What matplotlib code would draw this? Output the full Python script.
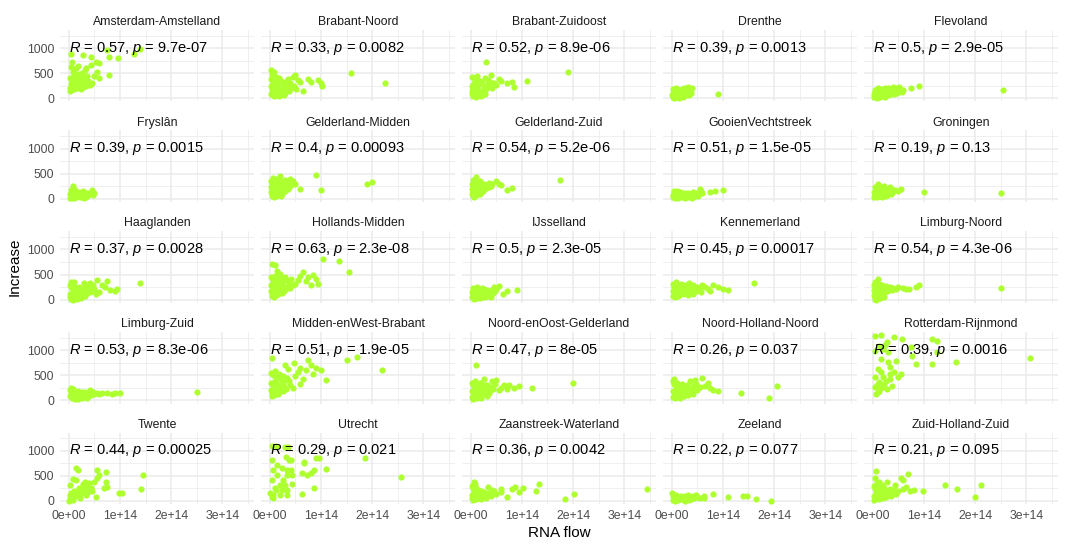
import matplotlib
matplotlib.use('Agg')
import matplotlib.pyplot as plt
from matplotlib.ticker import FuncFormatter
import numpy as np

plt.rcParams['font.family'] = ['Liberation Sans', 'DejaVu Sans']
plt.rcParams['mathtext.fontset'] = 'custom'
plt.rcParams['mathtext.rm'] = 'Liberation Sans'
plt.rcParams['mathtext.it'] = 'Liberation Sans:italic'

# Regions (facets) and correlation labels
regions = ["Amsterdam-Amstelland", "Brabant-Noord", "Brabant-Zuidoost", "Drenthe", "Flevoland",
           "Fryslân", "Gelderland-Midden", "Gelderland-Zuid", "GooienVechtstreek", "Groningen",
           "Haaglanden", "Hollands-Midden", "IJsselland", "Kennemerland", "Limburg-Noord",
           "Limburg-Zuid", "Midden-enWest-Brabant", "Noord-enOost-Gelderland", "Noord-Holland-Noord",
           "Rotterdam-Rijnmond", "Twente", "Utrecht", "Zaanstreek-Waterland", "Zeeland",
           "Zuid-Holland-Zuid"]
r_vals = ["0.57", "0.33", "0.52", "0.39", "0.5", "0.39", "0.4", "0.54", "0.51", "0.19",
          "0.37", "0.63", "0.5", "0.45", "0.54", "0.53", "0.51", "0.47", "0.26", "0.39",
          "0.44", "0.29", "0.36", "0.22", "0.21"]
p_vals = ["9.7e-07", "0.0082", "8.9e-06", "0.0013", "2.9e-05", "0.0015", "0.00093", "5.2e-06",
          "1.5e-05", "0.13", "0.0028", "2.3e-08", "2.3e-05", "0.00017", "4.3e-06", "8.3e-06",
          "1.9e-05", "8e-05", "0.037", "0.0016", "0.00025", "0.021", "0.0042", "0.077", "0.095"]

# (RNA flow in 1e14, increase) per region
ams = [(0.06,720),(0.27,860),(0.44,820),(0.53,720),(0.60,700),(0.44,660),(0.79,820),(0.75,960),(0.96,800),(1.27,880),
       (1.40,980),(0.79,460),(0.56,520),(0.46,300),(0.60,400),(0.15,600),(0.31,560),(0.05,880),(0.02,200),(0.05,160),
       (0.08,240),(0.10,180),(0.12,300),(0.15,220),(0.18,260),(0.20,350),(0.22,280),(0.25,420),(0.28,320),(0.30,380),
       (0.33,250),(0.03,400),(0.07,330),(0.11,450),(0.14,380),(0.17,480),(0.21,300),(0.24,360),(0.27,230),(0.04,280),
       (0.09,210),(0.13,350),(0.19,420),(0.23,190),(0.29,270),(0.35,440),(0.02,150),(0.06,250),(0.10,310),(0.16,200),
       (0.20,390),(0.26,500),(0.38,340),(0.42,260),(0.08,520),(0.12,460),(0.05,620),(0.18,640),(0.33,600),(0.50,450)]
bn = [(0.02,560),(0.05,480),(0.08,520),(0.12,430),(0.03,380),(0.07,330),(0.10,300),(0.15,360),(0.18,400),(0.22,350),
      (0.25,280),(0.30,330),(0.35,380),(0.40,300),(0.45,420),(0.50,460),(0.55,360),(0.60,320),(0.02,250),(0.05,200),
      (0.08,150),(0.12,230),(0.16,180),(0.20,120),(0.24,200),(0.28,160),(0.33,230),(0.38,140),(0.03,90),(0.06,60),
      (0.10,100),(0.14,70),(0.18,50),(0.22,90),(0.04,130),(0.09,40),(0.27,60),(0.48,250),(0.65,150),(0.75,380),
      (0.80,330),(0.95,360),(1.00,300),(1.02,250),(1.58,500),(2.25,300),(0.42,200),(0.52,180),(0.15,270),(0.30,110)]
bz = [(0.30,720),(0.40,470),(0.03,420),(0.08,380),(0.12,440),(0.18,350),(0.22,300),(0.28,400),(0.33,360),(0.38,320),
      (0.45,300),(0.50,260),(0.60,350),(0.70,300),(0.80,330),(0.85,230),(1.10,350),(1.90,520),(0.02,250),(0.05,180),
      (0.08,120),(0.12,200),(0.15,260),(0.20,150),(0.25,220),(0.30,180),(0.35,240),(0.02,80),(0.05,50),(0.08,100),
      (0.10,30),(0.14,70),(0.18,110),(0.22,60),(0.03,150),(0.06,300),(0.16,330),(0.42,200),(0.26,120),(0.12,160),
      (0.55,380),(0.33,280),(0.04,220),(0.20,40),(0.28,90)]
dr = [(0.02,180),(0.05,150),(0.08,200),(0.10,120),(0.13,170),(0.16,140),(0.20,190),(0.24,210),(0.28,160),(0.32,220),
      (0.36,180),(0.40,200),(0.03,100),(0.06,80),(0.09,60),(0.12,90),(0.15,40),(0.18,110),(0.22,70),(0.26,120),
      (0.30,90),(0.35,130),(0.02,30),(0.05,10),(0.08,40),(0.11,20),(0.14,0),(0.17,50),(0.21,30),(0.25,60),
      (0.04,130),(0.07,160),(0.19,150),(0.27,100),(0.33,60),(0.38,110),(0.90,80),(0.01,60),(0.10,180),(0.23,40)]
fl = [(0.02,80),(0.05,120),(0.08,60),(0.10,150),(0.13,100),(0.16,180),(0.20,130),(0.23,200),(0.26,160),(0.30,210),
      (0.33,140),(0.36,190),(0.40,230),(0.43,170),(0.46,200),(0.50,150),(0.54,190),(0.58,120),(0.03,20),(0.06,40),
      (0.09,10),(0.12,50),(0.15,30),(0.19,70),(0.22,40),(0.25,90),(0.29,60),(0.32,100),(0.35,80),(0.39,120),
      (0.42,90),(0.47,110),(0.04,160),(0.11,200),(0.18,110),(0.27,130),(0.37,150),(0.52,230),(0.75,200),(0.90,250),
      (2.55,170),(0.07,100),(0.14,140),(0.24,20),(0.60,170)]
fr = [(0.02,100),(0.04,60),(0.06,130),(0.08,80),(0.10,110),(0.12,50),(0.14,90),(0.16,120),(0.18,70),(0.20,100),
      (0.22,60),(0.24,90),(0.26,110),(0.28,70),(0.30,100),(0.32,80),(0.34,120),(0.36,90),(0.38,70),(0.40,110),
      (0.03,20),(0.05,40),(0.07,10),(0.09,30),(0.11,20),(0.13,40),(0.15,30),(0.17,50),(0.21,30),(0.25,40),
      (0.29,20),(0.33,40),(0.05,170),(0.08,250),(0.12,180),(0.45,180),(0.50,120),(0.47,80),(0.19,140),(0.27,150)]
gm = [(0.02,350),(0.05,300),(0.08,380),(0.12,320),(0.16,280),(0.20,350),(0.25,300),(0.30,380),(0.35,340),(0.40,400),
      (0.45,360),(0.03,240),(0.07,200),(0.11,260),(0.15,220),(0.19,180),(0.23,250),(0.28,210),(0.33,260),(0.38,230),
      (0.02,130),(0.06,100),(0.10,150),(0.14,80),(0.18,120),(0.22,60),(0.26,140),(0.04,50),(0.09,30),(0.13,60),
      (0.17,90),(0.06,420),(0.20,450),(0.90,470),(0.60,200),(1.00,180),(1.90,300),(2.00,340),(0.50,300),(0.42,280),
      (0.08,170),(0.30,160),(0.14,400),(0.36,200),(0.24,100)]
gz = [(0.10,430),(0.05,380),(0.02,300),(0.08,250),(0.12,320),(0.15,280),(0.18,350),(0.22,260),(0.25,300),(0.28,240),
      (0.32,280),(0.36,320),(0.40,260),(0.03,200),(0.06,160),(0.09,220),(0.13,180),(0.16,140),(0.20,200),(0.24,160),
      (0.30,210),(0.02,100),(0.05,60),(0.08,120),(0.11,80),(0.14,100),(0.18,90),(0.04,140),(0.07,40),(0.26,190),
      (0.50,350),(0.55,300),(0.60,280),(0.70,180),(0.80,220),(1.75,380),(0.35,230),(0.42,300),(0.12,240),(0.20,130)]
gv = [(0.02,80),(0.05,120),(0.08,60),(0.11,100),(0.14,130),(0.17,70),(0.20,110),(0.23,90),(0.26,120),(0.29,80),
      (0.32,110),(0.35,70),(0.38,100),(0.41,130),(0.44,90),(0.47,120),(0.50,100),(0.03,30),(0.06,10),(0.09,40),
      (0.12,20),(0.15,50),(0.18,30),(0.21,40),(0.25,20),(0.28,50),(0.31,30),(0.36,40),(0.40,20),(0.45,50),
      (0.04,150),(0.10,160),(0.16,140),(0.55,200),(0.58,150),(0.60,120),(0.75,130),(0.85,160),(1.00,170),(0.52,60)]
gr = [(0.10,300),(0.05,230),(0.08,180),(0.12,250),(0.15,200),(0.18,160),(0.20,220),(0.24,180),(0.28,200),(0.32,160),
      (0.36,190),(0.40,150),(0.44,170),(0.02,140),(0.04,100),(0.07,80),(0.10,120),(0.13,60),(0.16,100),(0.20,80),
      (0.23,110),(0.27,70),(0.30,120),(0.35,90),(0.03,40),(0.06,60),(0.09,30),(0.14,50),(0.18,40),(0.25,50),
      (0.50,150),(0.55,200),(1.00,140),(2.50,120),(0.22,250),(0.38,110),(0.12,170),(0.33,230)]
hg = [(0.02,300),(0.05,250),(0.08,200),(0.11,280),(0.14,220),(0.17,180),(0.20,260),(0.23,200),(0.26,150),(0.29,240),
      (0.32,190),(0.35,280),(0.38,230),(0.41,330),(0.44,260),(0.47,300),(0.50,210),(0.03,120),(0.06,80),(0.09,140),
      (0.12,100),(0.15,60),(0.18,120),(0.21,90),(0.24,40),(0.27,110),(0.31,70),(0.36,130),(0.42,160),(0.02,50),
      (0.05,20),(0.08,0),(0.12,30),(0.16,10),(0.04,360),(0.10,350),(0.55,400),(0.65,300),(0.70,250),(0.75,380),
      (0.60,150),(0.80,200),(0.90,170),(0.95,220),(1.40,340),(0.30,340),(0.46,180),(0.53,120)]
hm = [(0.05,700),(0.10,680),(0.15,580),(0.55,400),(0.65,550),(0.75,450),(0.85,500),(0.90,420),(1.05,800),(1.35,760),
      (1.55,560),(0.95,320),(0.80,300),(0.02,450),(0.06,400),(0.10,480),(0.14,420),(0.18,360),(0.22,440),(0.26,380),
      (0.30,460),(0.34,400),(0.38,350),(0.42,420),(0.46,300),(0.03,300),(0.07,260),(0.11,320),(0.15,280),(0.19,240),
      (0.23,300),(0.27,260),(0.31,220),(0.35,280),(0.02,180),(0.05,140),(0.08,200),(0.12,160),(0.16,120),(0.20,180),
      (0.24,140),(0.04,80),(0.09,60),(0.13,100),(0.50,320),(0.60,480),(0.20,520),(0.40,230),(0.28,180),(0.70,380)]
ij = [(0.02,150),(0.05,100),(0.08,180),(0.11,130),(0.14,200),(0.17,150),(0.20,110),(0.23,170),(0.26,220),(0.29,140),
      (0.32,190),(0.35,120),(0.38,160),(0.41,200),(0.44,130),(0.47,170),(0.03,50),(0.06,20),(0.09,70),(0.12,40),
      (0.15,80),(0.18,30),(0.21,60),(0.24,90),(0.28,50),(0.33,70),(0.39,60),(0.04,230),(0.13,250),(0.22,240),
      (0.55,280),(0.70,180),(0.90,200),(0.50,220),(0.62,120),(0.45,250)]
km = [(0.02,320),(0.05,280),(0.08,350),(0.11,300),(0.14,250),(0.17,320),(0.20,270),(0.23,230),(0.26,300),(0.29,250),
      (0.32,200),(0.35,280),(0.38,230),(0.41,300),(0.44,250),(0.47,200),(0.50,260),(0.55,230),(0.60,300),(0.65,250),
      (0.70,220),(0.03,180),(0.06,130),(0.09,200),(0.12,150),(0.15,100),(0.18,170),(0.21,120),(0.24,190),(0.27,140),
      (0.31,90),(0.36,160),(0.42,120),(0.48,170),(0.02,80),(0.07,60),(0.13,70),(0.80,300),(0.90,250),(1.00,220),
      (0.75,180),(1.10,200),(1.60,340),(0.58,150),(0.04,230),(0.33,330)]
ln = [(0.10,420),(0.05,350),(0.02,300),(0.08,280),(0.12,320),(0.15,250),(0.18,300),(0.22,240),(0.26,280),(0.30,220),
      (0.34,260),(0.38,200),(0.03,200),(0.06,160),(0.09,220),(0.13,180),(0.16,140),(0.20,190),(0.24,150),(0.28,170),
      (0.02,100),(0.05,60),(0.08,120),(0.11,80),(0.14,40),(0.17,90),(0.21,60),(0.04,20),(0.07,0),(0.12,30),
      (0.50,250),(0.60,240),(0.70,220),(0.85,260),(0.90,300),(2.50,230),(0.40,240),(0.65,210),(0.32,190),(0.45,220)]
lz = [(0.02,200),(0.05,150),(0.08,220),(0.11,170),(0.14,120),(0.17,180),(0.20,140),(0.23,100),(0.26,160),(0.29,120),
      (0.32,170),(0.35,130),(0.38,90),(0.41,150),(0.44,110),(0.47,160),(0.50,130),(0.03,80),(0.06,50),(0.09,90),
      (0.12,30),(0.15,60),(0.18,20),(0.21,70),(0.25,40),(0.30,60),(0.36,50),(0.04,250),(0.55,150),(0.60,120),
      (0.75,150),(0.90,140),(1.00,150),(2.50,170),(0.65,140),(0.85,130),(0.10,120),(0.42,200)]
mw = [(0.05,850),(0.30,700),(0.60,650),(0.50,480),(0.75,800),(0.80,700),(0.90,650),(1.00,600),(1.10,400),(1.50,800),
      (1.70,860),(2.20,600),(0.02,550),(0.06,500),(0.10,580),(0.14,460),(0.18,520),(0.22,420),(0.26,480),(0.30,400),
      (0.34,450),(0.38,380),(0.03,350),(0.07,300),(0.11,380),(0.15,320),(0.19,260),(0.23,330),(0.27,280),(0.31,220),
      (0.02,200),(0.05,150),(0.08,220),(0.12,180),(0.16,130),(0.20,190),(0.04,80),(0.09,100),(0.40,300),(0.45,250),
      (0.55,560),(0.65,420),(0.70,600),(0.35,620),(0.85,520),(0.25,180),(0.60,320),(0.48,750)]
no = [(0.10,700),(0.50,400),(0.60,250),(0.75,300),(0.95,280),(1.20,250),(2.00,350),(0.02,350),(0.05,300),(0.08,380),
      (0.11,320),(0.14,260),(0.17,340),(0.20,280),(0.23,230),(0.26,300),(0.29,250),(0.32,310),(0.35,260),(0.38,200),
      (0.41,270),(0.44,220),(0.47,320),(0.03,180),(0.06,130),(0.09,200),(0.12,150),(0.15,100),(0.18,170),(0.21,120),
      (0.24,180),(0.27,140),(0.31,90),(0.36,150),(0.02,60),(0.05,30),(0.08,80),(0.13,50),(0.19,40),(0.55,200),
      (0.65,300),(0.85,250),(0.42,380),(0.70,220),(0.25,420)]
nh = [(0.60,450),(0.70,350),(0.75,250),(0.90,180),(0.55,260),(1.35,150),(1.90,50),(2.05,280),(0.02,380),(0.05,330),
      (0.08,280),(0.11,350),(0.14,300),(0.17,250),(0.20,320),(0.23,270),(0.26,220),(0.29,300),(0.32,250),(0.35,380),
      (0.38,200),(0.41,280),(0.44,230),(0.47,320),(0.50,200),(0.03,180),(0.06,130),(0.09,200),(0.12,150),(0.15,100),
      (0.18,170),(0.21,120),(0.24,80),(0.27,150),(0.31,110),(0.36,160),(0.42,130),(0.02,60),(0.06,40),(0.10,70),
      (0.16,50),(0.65,280),(0.80,200),(0.45,400),(0.04,420)]
rr = [(0.04,1280),(0.17,1300),(0.42,1260),(0.58,1220),(1.15,1220),(1.25,1180),(0.27,1160),(0.04,980),(0.19,1020),(0.29,960),
      (0.75,1060),(0.77,880),(0.85,720),(1.15,720),(1.25,960),(1.63,760),(3.08,840),(0.17,820),(0.29,760),(0.46,780),
      (0.33,660),(0.17,560),(0.33,520),(0.42,560),(0.56,520),(0.04,460),(0.19,460),(0.33,420),(0.13,360),(0.04,260),
      (0.13,180),(0.19,260),(0.27,220),(0.37,280),(0.10,160),(0.08,300),(0.22,320),(0.06,120),(0.15,240),(0.25,380),
      (0.50,460),(0.10,620),(0.24,1100),(0.12,1080)]
tw = [(0.15,660),(0.17,620),(0.56,620),(0.73,580),(0.60,520),(1.46,520),(0.56,460),(0.02,320),(0.08,440),(0.15,420),
      (0.27,220),(0.35,280),(0.40,360),(0.50,380),(0.44,260),(0.73,380),(0.69,260),(0.75,280),(0.54,80),(0.98,160),
      (1.04,160),(1.42,240),(0.02,120),(0.02,60),(0.08,20),(0.21,60),(0.25,160),(0.15,160),(0.37,180),(0.31,380),
      (0.21,180),(0.00,0),(0.12,100),(0.40,260),(0.30,300),(0.20,250),(0.10,200),(0.05,150),(0.33,120),(0.45,200),
      (0.28,340),(0.18,90)]
ut = [(0.04,1100),(0.13,1100),(0.29,1080),(0.35,1080),(0.31,880),(0.38,820),(0.04,820),(0.15,720),(0.42,820),(0.67,780),
      (0.67,760),(0.90,860),(0.96,860),(1.87,860),(0.06,620),(0.23,660),(0.33,620),(0.42,620),(0.62,560),(0.81,560),
      (0.87,620),(1.10,640),(0.15,520),(0.33,520),(0.44,520),(0.73,520),(0.04,420),(0.25,420),(0.29,320),(0.44,340),
      (0.19,320),(0.10,260),(0.23,220),(0.33,220),(0.00,160),(0.06,120),(0.19,120),(0.04,80),(0.87,260),(0.63,140),
      (2.56,480),(0.13,220),(0.33,120),(0.06,60)]
zw = [(0.06,380),(0.33,280),(0.60,240),(0.60,170),(0.71,70),(0.80,230),(0.87,280),(0.95,170),(1.02,260),(1.28,190),
      (1.33,340),(1.85,30),(2.02,140),(3.45,240),(0.18,170),(0.02,300),(0.04,250),(0.06,200),(0.08,150),(0.10,260),
      (0.12,120),(0.14,220),(0.16,90),(0.20,200),(0.22,130),(0.24,80),(0.26,180),(0.28,110),(0.30,60),(0.35,150),
      (0.40,100),(0.45,190),(0.50,130),(0.02,50),(0.05,20),(0.08,80),(0.11,40),(0.15,60),(0.19,30),(0.03,120),
      (0.09,340),(0.42,220)]
ze = [(0.00,150),(0.62,55),(0.80,140),(1.09,80),(1.40,100),(1.48,100),(1.64,35),(1.95,0),(0.02,100),(0.05,60),
      (0.08,120),(0.11,80),(0.14,40),(0.17,100),(0.20,60),(0.23,20),(0.26,90),(0.29,50),(0.32,110),(0.35,70),
      (0.38,30),(0.41,90),(0.44,60),(0.47,120),(0.50,80),(0.03,20),(0.06,0),(0.09,30),(0.13,10),(0.18,40),
      (0.25,0),(0.33,20),(0.62,90),(0.55,50)]
zh = [(0.06,590),(0.05,450),(0.12,380),(0.28,380),(0.55,450),(0.60,410),(0.68,540),(0.43,310),(0.60,240),(0.80,210),
      (0.99,190),(1.42,310),(1.65,230),(2.00,80),(2.12,310),(0.02,300),(0.04,250),(0.07,200),(0.10,280),(0.13,150),
      (0.16,230),(0.19,180),(0.22,260),(0.25,120),(0.28,200),(0.31,150),(0.34,240),(0.38,170),(0.42,220),(0.46,140),
      (0.50,200),(0.03,100),(0.06,60),(0.09,120),(0.12,40),(0.15,80),(0.20,50),(0.26,70),(0.35,90),(0.02,20),
      (0.08,350),(0.18,320),(0.65,280),(0.72,200)]

panels = [ams, bn, bz, dr, fl, fr, gm, gz, gv, gr, hg, hm, ij, km, ln,
          lz, mw, no, nh, rr, tw, ut, zw, ze, zh]

# shared limits, ggplot-style 5% expansion
all_x = np.concatenate([np.array(p)[:, 0] for p in panels]) * 1e14
all_y = np.concatenate([np.array(p)[:, 1] for p in panels])
xr = all_x.max() - all_x.min()
yr = all_y.max() - all_y.min()
xlim = (all_x.min() - 0.05 * xr, all_x.max() + 0.05 * xr)
ylim = (all_y.min() - 0.05 * yr, all_y.max() + 0.05 * yr)

fig, axes = plt.subplots(5, 5, figsize=(10.67, 5.48), dpi=100, sharex=True, sharey=True)
fig.subplots_adjust(left=60/1067, right=1058/1067, top=1-29.75/548, bottom=1-504.25/548,
                    wspace=0.036, hspace=0.409)

sci = FuncFormatter(lambda v, pos: f"{v:.0e}")

for i, ax in enumerate(axes.flat):
    pts = np.array(panels[i])
    ax.scatter(pts[:, 0] * 1e14, pts[:, 1], s=20, color='#ADFF2F', linewidths=0, zorder=2)
    ax.text(0, 1000, rf"$\it{{R}}$ = {r_vals[i]}, $\it{{p}}$ = {p_vals[i]}",
            fontsize=10.5, color='black', ha='left', va='center', zorder=3)
    ax.set_title(regions[i], fontsize=8.8, color='#1A1A1A', pad=3.5)
    ax.set_xlim(xlim)
    ax.set_ylim(ylim)
    ax.set_xticks([0, 1e14, 2e14, 3e14])
    ax.set_xticks([0.5e14, 1.5e14, 2.5e14, 3.5e14], minor=True)
    ax.set_yticks([0, 500, 1000])
    ax.set_yticks([250, 750, 1250], minor=True)
    ax.xaxis.set_major_formatter(sci)
    ax.grid(True, which='major', color='#EBEBEB', linewidth=1.1, zorder=0)
    ax.grid(True, which='minor', color='#EBEBEB', linewidth=0.55, zorder=0)
    ax.set_axisbelow(True)
    for s in ax.spines.values():
        s.set_visible(False)
    ax.tick_params(which='both', length=0, labelsize=8.8, labelcolor='#4D4D4D', pad=4)

fig.text((60 + 1058) / 2 / 1067, 1 - 533/548, "RNA flow", fontsize=11, ha='center', va='center')
fig.text(15/1067, 1 - 267/548, "Increase", fontsize=11, ha='center', va='center', rotation=90)

fig.savefig('out.png', dpi=100, facecolor='white')
